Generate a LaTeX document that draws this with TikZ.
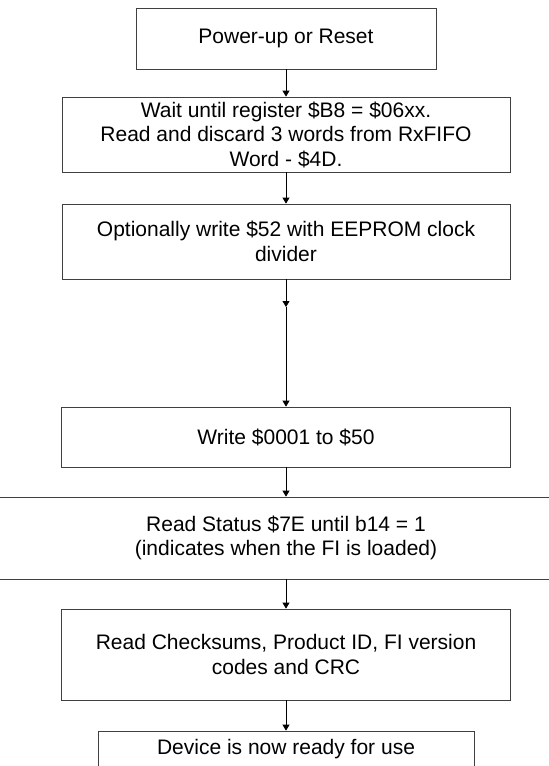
\documentclass[tikz,border=0pt]{standalone}
\usepackage{fontspec}
\setmainfont{Liberation Sans}
\usetikzlibrary{arrows.meta}
\begin{document}
\begin{tikzpicture}[x=1pt,y=-1pt,
  boxstyle/.style={draw=black!75, line width=0.8pt, inner sep=0pt, align=center,
    font=\fontsize{21}{24.5}\selectfont},
  arrowstyle/.style={draw=black, line width=0.8pt, -{Triangle[width=7pt,length=6pt]}}]
\useasboundingbox (0,0) rectangle (549,766);
\fill[white] (0,0) rectangle (549,766);
\node[boxstyle, minimum width=300pt, minimum height=61pt] (b1) at (286,38.5) {Power-up or Reset};
\node[boxstyle, minimum width=448pt, minimum height=75pt] (b2) at (286,134.5)
  {Wait until register \$B8 = \$06xx.\\Read and discard 3 words from RxFIFO\\Word - \$4D.};
\node[boxstyle, minimum width=448pt, minimum height=75pt] (b3) at (286,241.5)
  {Optionally write \$52 with EEPROM clock\\divider};
\coordinate (mid) at (286,307);
\node[boxstyle, minimum width=449pt, minimum height=60pt] (b4) at (286,437) {Write \$0001 to \$50};
\node[boxstyle, minimum width=620pt, minimum height=82pt] (b5) at (286,538)
  {Read Status \$7E until b14 = 1\\(indicates when the FI is loaded)};
\node[boxstyle, minimum width=449pt, minimum height=91pt] (b6) at (286,654.5)
  {Read Checksums, Product ID, FI version\\codes and CRC};
\node[boxstyle, minimum width=376pt, minimum height=36pt] (b7) at (286,749) {Device is now ready for use};
\draw[arrowstyle] (b1.south) -- (b2.north);
\draw[arrowstyle] (b2.south) -- (b3.north);
\draw[arrowstyle] (b3.south) -- (mid);
\draw[arrowstyle] (mid) -- (b4.north);
\draw[arrowstyle] (b4.south) -- (b5.north);
\draw[arrowstyle] (b5.south) -- (b6.north);
\draw[arrowstyle] (b6.south) -- (b7.north);
\end{tikzpicture}
\end{document}
